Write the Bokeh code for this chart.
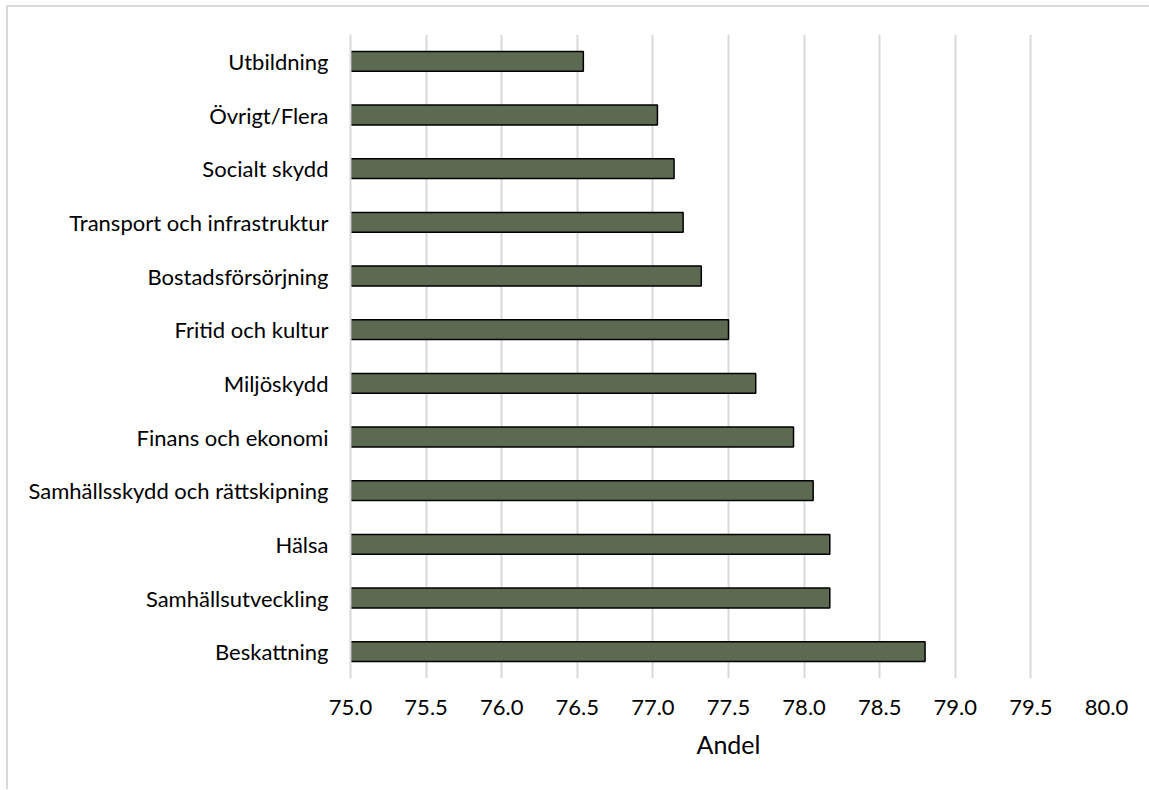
from bokeh.plotting import figure
from bokeh.models import FixedTicker, PrintfTickFormatter
from bokeh.embed import file_html
from bokeh.resources import INLINE

categories = ["Utbildning", "Övrigt/Flera", "Socialt skydd", "Transport och infrastruktur",
              "Bostadsförsörjning", "Fritid och kultur", "Miljöskydd", "Finans och ekonomi",
              "Samhällsskydd och rättskipning", "Hälsa", "Samhällsutveckling", "Beskattning"]
values = [76.54, 77.03, 77.14, 77.20, 77.32, 77.50, 77.68, 77.93, 78.06, 78.17, 78.17, 78.80]
x_ticks = [75.0, 75.5, 76.0, 76.5, 77.0, 77.5, 78.0, 78.5, 79.0, 79.5, 80.0]
x_title = "Andel"

FONT = "Lato"

p = figure(width=1143, height=784, output_backend="svg", toolbar_location=None,
           y_range=list(reversed(categories)), x_range=(75.0, 80.0),
           min_border_left=342, min_border_right=45, min_border_top=27, min_border_bottom=113)
p.margin = (5, 0, 0, 6)
p.styles = {"border-top": "2px solid #d9d9d9", "border-left": "2px solid #d9d9d9"}
p.outline_line_color = None

p.hbar(y=categories, left=75.0, right=values, height=0.37,
       fill_color="#5c6a51", line_color="black", line_width=1.5)

p.xaxis.ticker = FixedTicker(ticks=x_ticks)
p.xaxis.formatter = PrintfTickFormatter(format="%.1f")
p.xaxis.axis_line_color = None
p.xaxis.major_tick_line_color = None
p.xaxis.minor_tick_line_color = None
p.xaxis.major_label_standoff = 15
p.xaxis.major_label_text_font = FONT
p.xaxis.major_label_text_font_size = "22px"
p.xaxis.major_label_text_color = "#000000"
p.xaxis.axis_label = x_title
p.xaxis.axis_label_text_font = FONT
p.xaxis.axis_label_text_font_size = "25px"
p.xaxis.axis_label_text_font_style = "normal"
p.xaxis.axis_label_text_color = "#000000"
p.xaxis.axis_label_standoff = 11

p.yaxis.axis_line_color = "#d9d9d9"
p.yaxis.axis_line_width = 2
p.yaxis.major_tick_line_color = None
p.yaxis.minor_tick_line_color = None
p.yaxis.major_label_standoff = 16
p.yaxis.major_label_text_font = FONT
p.yaxis.major_label_text_font_size = "22px"
p.yaxis.major_label_text_color = "#000000"

p.xgrid.grid_line_color = "#d9d9d9"
p.xgrid.grid_line_width = 2
p.ygrid.grid_line_color = None

open("out.html", "w").write(file_html(p, INLINE))
